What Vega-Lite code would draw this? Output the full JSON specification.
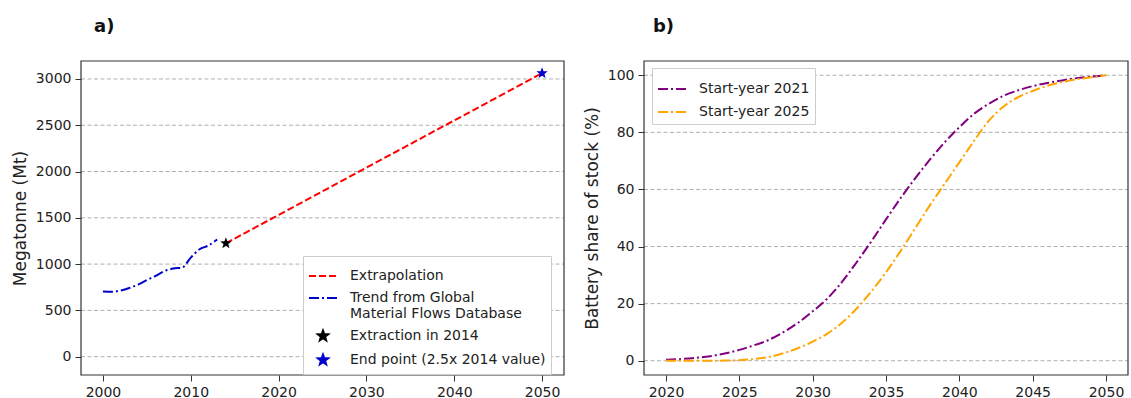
{
  "$schema": "https://vega.github.io/schema/vega-lite/v6.json",
  "width": 1047,
  "height": 314,
  "autosize": {"type": "none"},
  "padding": {"left": 81, "top": 61, "right": 3, "bottom": 23},
  "background": "white",
  "config": {
    "font": "DejaVu Sans",
    "view": {"stroke": null},
    "axis": {
      "domain": false,
      "grid": false,
      "tickColor": "#333333",
      "tickSize": 6,
      "labelFontSize": 14,
      "labelColor": "#222222",
      "labelPadding": 4,
      "titleFontSize": 17,
      "titleFontWeight": "normal",
      "titleColor": "#222222",
      "titlePadding": 6
    },
    "legend": {
      "labelFontSize": 14,
      "labelColor": "#222222",
      "labelLimit": 400,
      "fillColor": "white",
      "strokeColor": "#cccccc",
      "padding": 5,
      "rowPadding": 0,
      "symbolStrokeWidth": 2
    }
  },
  "resolve": {"scale": {"x": "independent", "y": "independent"}},
  "layer": [
    {
      "layer": [
        {
          "data": {"values": [{"g": 0}, {"g": 500}, {"g": 1000}, {"g": 1500}, {"g": 2000}, {"g": 2500}, {"g": 3000}]},
          "mark": {"type": "rule", "color": "#b0b0b0", "strokeDash": [4, 2.5], "strokeWidth": 1},
          "encoding": {
            "y": {"field": "g", "type": "quantitative", "scale": {"domain": [-198, 3194], "nice": false, "zero": false}, "axis": {"orient": "left", "values": [0, 500, 1000, 1500, 2000, 2500, 3000], "format": "d", "title": "Megatonne (Mt)"}},
            "x": {"datum": 1997.5, "type": "quantitative", "scale": {"domain": [1997.5, 2116.72], "nice": false, "zero": false}, "axis": {"orient": "bottom", "values": [2000, 2010, 2020, 2030, 2040, 2050], "format": "d", "title": null}},
            "x2": {"datum": 2052.5}
          }
        },
        {
          "data": {"values": [{}]},
          "mark": {"type": "rect", "fill": "transparent", "stroke": "#333333", "strokeWidth": 1.2},
          "encoding": {
            "x": {"datum": 1997.5, "type": "quantitative", "scale": {"domain": [1997.5, 2116.72], "nice": false, "zero": false}, "axis": {"orient": "bottom", "values": [2000, 2010, 2020, 2030, 2040, 2050], "format": "d", "title": null}},
            "x2": {"datum": 2052.5},
            "y": {"datum": -198, "type": "quantitative", "scale": {"domain": [-198, 3194], "nice": false, "zero": false}, "axis": {"orient": "left", "values": [0, 500, 1000, 1500, 2000, 2500, 3000], "format": "d", "title": "Megatonne (Mt)"}},
            "y2": {"datum": 3194}
          }
        },
        {
          "data": {"values": [
            {"year": 2000, "value": 705, "series": "Trend from Global Material Flows Database"},
            {"year": 2001, "value": 700, "series": "Trend from Global Material Flows Database"},
            {"year": 2002, "value": 715, "series": "Trend from Global Material Flows Database"},
            {"year": 2003, "value": 742, "series": "Trend from Global Material Flows Database"},
            {"year": 2004, "value": 778, "series": "Trend from Global Material Flows Database"},
            {"year": 2005, "value": 828, "series": "Trend from Global Material Flows Database"},
            {"year": 2006, "value": 872, "series": "Trend from Global Material Flows Database"},
            {"year": 2007, "value": 925, "series": "Trend from Global Material Flows Database"},
            {"year": 2008, "value": 952, "series": "Trend from Global Material Flows Database"},
            {"year": 2009, "value": 962, "series": "Trend from Global Material Flows Database"},
            {"year": 2010, "value": 1070, "series": "Trend from Global Material Flows Database"},
            {"year": 2011, "value": 1160, "series": "Trend from Global Material Flows Database"},
            {"year": 2012, "value": 1200, "series": "Trend from Global Material Flows Database"},
            {"year": 2013, "value": 1265, "series": "Trend from Global Material Flows Database"},
            {"year": 2014, "value": 1225, "series": "Extrapolation"},
            {"year": 2050, "value": 3062.5, "series": "Extrapolation"}
          ]},
          "mark": {"type": "line", "strokeWidth": 2, "interpolate": "monotone"},
          "encoding": {
            "x": {"field": "year", "type": "quantitative", "scale": {"domain": [1997.5, 2116.72], "nice": false, "zero": false}, "axis": {"orient": "bottom", "values": [2000, 2010, 2020, 2030, 2040, 2050], "format": "d", "title": null}},
            "y": {"field": "value", "type": "quantitative", "scale": {"domain": [-198, 3194], "nice": false, "zero": false}, "axis": {"orient": "left", "values": [0, 500, 1000, 1500, 2000, 2500, 3000], "format": "d", "title": "Megatonne (Mt)"}},
            "color": {
              "field": "series", "type": "nominal",
              "scale": {"domain": ["Extrapolation", "Trend from Global Material Flows Database", "Extraction in 2014", "End point (2.5x 2014 value)"], "range": ["#ff0000", "#0000cc", "#000000", "#0000cc"]},
              "legend": {"title": null, "orient": "none", "legendX": 222, "legendY": 195, "symbolSize": 784, "labelOffset": 12, "labelExpr": "datum.label == 'Trend from Global Material Flows Database' ? ['Trend from Global', 'Material Flows Database'] : datum.label"}
            },
            "strokeDash": {
              "field": "series", "type": "nominal",
              "scale": {"domain": ["Extrapolation", "Trend from Global Material Flows Database", "Extraction in 2014", "End point (2.5x 2014 value)"], "range": [[7, 3], [10, 3, 2, 3], [1, 0], [1, 0]]},
              "legend": {"title": null, "orient": "none", "legendX": 222, "legendY": 195, "symbolSize": 784, "labelOffset": 12, "labelExpr": "datum.label == 'Trend from Global Material Flows Database' ? ['Trend from Global', 'Material Flows Database'] : datum.label"}
            }
          }
        },
        {
          "data": {"values": [
            {"year": 2014, "value": 1225, "series": "Extraction in 2014"},
            {"year": 2050, "value": 3062.5, "series": "End point (2.5x 2014 value)"}
          ]},
          "mark": {"type": "point", "filled": true, "size": 1000, "opacity": 1, "strokeWidth": 0},
          "encoding": {
            "x": {"field": "year", "type": "quantitative", "scale": {"domain": [1997.5, 2116.72], "nice": false, "zero": false}, "axis": {"orient": "bottom", "values": [2000, 2010, 2020, 2030, 2040, 2050], "format": "d", "title": null}},
            "y": {"field": "value", "type": "quantitative", "scale": {"domain": [-198, 3194], "nice": false, "zero": false}, "axis": {"orient": "left", "values": [0, 500, 1000, 1500, 2000, 2500, 3000], "format": "d", "title": "Megatonne (Mt)"}},
            "color": {"field": "series", "type": "nominal"},
            "shape": {
              "field": "series", "type": "nominal",
              "scale": {"domain": ["Extrapolation", "Trend from Global Material Flows Database", "Extraction in 2014", "End point (2.5x 2014 value)"], "range": ["M-1,0H1", "M-1,0H1", "M0,-0.38L0.093,-0.128L0.361,-0.117L0.151,0.049L0.223,0.307L0,0.158L-0.223,0.307L-0.151,0.049L-0.361,-0.117L-0.093,-0.128Z", "M0,-0.38L0.093,-0.128L0.361,-0.117L0.151,0.049L0.223,0.307L0,0.158L-0.223,0.307L-0.151,0.049L-0.361,-0.117L-0.093,-0.128Z"]},
              "legend": {"title": null, "orient": "none", "legendX": 222, "legendY": 195, "symbolSize": 784, "labelOffset": 12, "labelExpr": "datum.label == 'Trend from Global Material Flows Database' ? ['Trend from Global', 'Material Flows Database'] : datum.label"}
            }
          }
        },
        {
          "data": {"values": [{}]},
          "mark": {"type": "text", "text": "a)", "align": "left", "baseline": "alphabetic", "fontSize": 18, "fontWeight": "bold", "color": "#111111"},
          "encoding": {
            "x": {"datum": 1998.98, "type": "quantitative", "scale": {"domain": [1997.5, 2116.72], "nice": false, "zero": false}, "axis": {"orient": "bottom", "values": [2000, 2010, 2020, 2030, 2040, 2050], "format": "d", "title": null}},
            "y": {"datum": 3507, "type": "quantitative", "scale": {"domain": [-198, 3194], "nice": false, "zero": false}, "axis": {"orient": "left", "values": [0, 500, 1000, 1500, 2000, 2500, 3000], "format": "d", "title": "Megatonne (Mt)"}}
          }
        }
      ]
    },
    {
      "layer": [
        {
          "data": {"values": [{"g": 0}, {"g": 20}, {"g": 40}, {"g": 60}, {"g": 80}, {"g": 100}]},
          "mark": {"type": "rule", "color": "#b0b0b0", "strokeDash": [4, 2.5], "strokeWidth": 1},
          "encoding": {
            "y": {"field": "g", "type": "quantitative", "scale": {"domain": [-5, 105], "nice": false, "zero": false}, "axis": {"orient": "left", "offset": -563, "values": [0, 20, 40, 60, 80, 100], "title": "Battery share of stock (%)"}},
            "x": {"datum": 2018.5, "type": "quantitative", "scale": {"domain": [1980.11, 2051.5], "nice": false, "zero": false}, "axis": {"orient": "bottom", "values": [2020, 2025, 2030, 2035, 2040, 2045, 2050], "format": "d", "title": null}},
            "x2": {"datum": 2051.5}
          }
        },
        {
          "data": {"values": [{}]},
          "mark": {"type": "rect", "fill": "transparent", "stroke": "#333333", "strokeWidth": 1.2},
          "encoding": {
            "x": {"datum": 2018.5, "type": "quantitative", "scale": {"domain": [1980.11, 2051.5], "nice": false, "zero": false}, "axis": {"orient": "bottom", "values": [2020, 2025, 2030, 2035, 2040, 2045, 2050], "format": "d", "title": null}},
            "x2": {"datum": 2051.5},
            "y": {"datum": -5, "type": "quantitative", "scale": {"domain": [-5, 105], "nice": false, "zero": false}, "axis": {"orient": "left", "offset": -563, "values": [0, 20, 40, 60, 80, 100], "title": "Battery share of stock (%)"}},
            "y2": {"datum": 105}
          }
        },
        {
          "data": {"values": [
            {"year": 2020, "share": 0.3, "scenario": "Start-year 2021"},
            {"year": 2021, "share": 0.6, "scenario": "Start-year 2021"},
            {"year": 2022, "share": 1.0, "scenario": "Start-year 2021"},
            {"year": 2023, "share": 1.6, "scenario": "Start-year 2021"},
            {"year": 2024, "share": 2.5, "scenario": "Start-year 2021"},
            {"year": 2025, "share": 3.8, "scenario": "Start-year 2021"},
            {"year": 2026, "share": 5.4, "scenario": "Start-year 2021"},
            {"year": 2027, "share": 7.3, "scenario": "Start-year 2021"},
            {"year": 2028, "share": 10.0, "scenario": "Start-year 2021"},
            {"year": 2029, "share": 13.3, "scenario": "Start-year 2021"},
            {"year": 2030, "share": 17.3, "scenario": "Start-year 2021"},
            {"year": 2031, "share": 21.8, "scenario": "Start-year 2021"},
            {"year": 2032, "share": 27.6, "scenario": "Start-year 2021"},
            {"year": 2033, "share": 34.5, "scenario": "Start-year 2021"},
            {"year": 2034, "share": 41.8, "scenario": "Start-year 2021"},
            {"year": 2035, "share": 49.5, "scenario": "Start-year 2021"},
            {"year": 2036, "share": 57.0, "scenario": "Start-year 2021"},
            {"year": 2037, "share": 64.0, "scenario": "Start-year 2021"},
            {"year": 2038, "share": 70.5, "scenario": "Start-year 2021"},
            {"year": 2039, "share": 76.5, "scenario": "Start-year 2021"},
            {"year": 2040, "share": 81.8, "scenario": "Start-year 2021"},
            {"year": 2041, "share": 86.5, "scenario": "Start-year 2021"},
            {"year": 2042, "share": 90.0, "scenario": "Start-year 2021"},
            {"year": 2043, "share": 92.8, "scenario": "Start-year 2021"},
            {"year": 2044, "share": 94.7, "scenario": "Start-year 2021"},
            {"year": 2045, "share": 96.2, "scenario": "Start-year 2021"},
            {"year": 2046, "share": 97.3, "scenario": "Start-year 2021"},
            {"year": 2047, "share": 98.2, "scenario": "Start-year 2021"},
            {"year": 2048, "share": 99.0, "scenario": "Start-year 2021"},
            {"year": 2049, "share": 99.5, "scenario": "Start-year 2021"},
            {"year": 2050, "share": 100.0, "scenario": "Start-year 2021"},
            {"year": 2020, "share": 0.0, "scenario": "Start-year 2025"},
            {"year": 2021, "share": 0.0, "scenario": "Start-year 2025"},
            {"year": 2022, "share": 0.0, "scenario": "Start-year 2025"},
            {"year": 2023, "share": 0.0, "scenario": "Start-year 2025"},
            {"year": 2024, "share": 0.05, "scenario": "Start-year 2025"},
            {"year": 2025, "share": 0.2, "scenario": "Start-year 2025"},
            {"year": 2026, "share": 0.6, "scenario": "Start-year 2025"},
            {"year": 2027, "share": 1.3, "scenario": "Start-year 2025"},
            {"year": 2028, "share": 2.6, "scenario": "Start-year 2025"},
            {"year": 2029, "share": 4.4, "scenario": "Start-year 2025"},
            {"year": 2030, "share": 6.7, "scenario": "Start-year 2025"},
            {"year": 2031, "share": 9.5, "scenario": "Start-year 2025"},
            {"year": 2032, "share": 13.3, "scenario": "Start-year 2025"},
            {"year": 2033, "share": 18.3, "scenario": "Start-year 2025"},
            {"year": 2034, "share": 24.3, "scenario": "Start-year 2025"},
            {"year": 2035, "share": 31.0, "scenario": "Start-year 2025"},
            {"year": 2036, "share": 38.5, "scenario": "Start-year 2025"},
            {"year": 2037, "share": 46.5, "scenario": "Start-year 2025"},
            {"year": 2038, "share": 54.5, "scenario": "Start-year 2025"},
            {"year": 2039, "share": 62.0, "scenario": "Start-year 2025"},
            {"year": 2040, "share": 69.5, "scenario": "Start-year 2025"},
            {"year": 2041, "share": 77.0, "scenario": "Start-year 2025"},
            {"year": 2042, "share": 84.0, "scenario": "Start-year 2025"},
            {"year": 2043, "share": 89.0, "scenario": "Start-year 2025"},
            {"year": 2044, "share": 92.3, "scenario": "Start-year 2025"},
            {"year": 2045, "share": 94.5, "scenario": "Start-year 2025"},
            {"year": 2046, "share": 96.3, "scenario": "Start-year 2025"},
            {"year": 2047, "share": 97.6, "scenario": "Start-year 2025"},
            {"year": 2048, "share": 98.6, "scenario": "Start-year 2025"},
            {"year": 2049, "share": 99.3, "scenario": "Start-year 2025"},
            {"year": 2050, "share": 100.0, "scenario": "Start-year 2025"}
          ]},
          "mark": {"type": "line", "strokeWidth": 2, "interpolate": "monotone", "strokeDash": [10, 3, 2, 3]},
          "encoding": {
            "x": {"field": "year", "type": "quantitative", "scale": {"domain": [1980.11, 2051.5], "nice": false, "zero": false}, "axis": {"orient": "bottom", "values": [2020, 2025, 2030, 2035, 2040, 2045, 2050], "format": "d", "title": null}},
            "y": {"field": "share", "type": "quantitative", "scale": {"domain": [-5, 105], "nice": false, "zero": false}, "axis": {"orient": "left", "offset": -563, "values": [0, 20, 40, 60, 80, 100], "title": "Battery share of stock (%)"}},
            "stroke": {
              "field": "scenario", "type": "nominal",
              "scale": {"domain": ["Start-year 2021", "Start-year 2025"], "range": ["#800080", "#ffa500"]},
              "legend": {"title": null, "orient": "none", "legendX": 571, "legendY": 7, "symbolType": "M-1,0H1", "symbolSize": 900, "symbolDash": [10, 3, 2, 3], "labelOffset": 10}
            }
          }
        },
        {
          "data": {"values": [{}]},
          "mark": {"type": "text", "text": "b)", "align": "left", "baseline": "alphabetic", "fontSize": 18, "fontWeight": "bold", "color": "#111111"},
          "encoding": {
            "x": {"datum": 2019.11, "type": "quantitative", "scale": {"domain": [1980.11, 2051.5], "nice": false, "zero": false}, "axis": {"orient": "bottom", "values": [2020, 2025, 2030, 2035, 2040, 2045, 2050], "format": "d", "title": null}},
            "y": {"datum": 115.2, "type": "quantitative", "scale": {"domain": [-5, 105], "nice": false, "zero": false}, "axis": {"orient": "left", "offset": -563, "values": [0, 20, 40, 60, 80, 100], "title": "Battery share of stock (%)"}}
          }
        }
      ]
    }
  ]
}
